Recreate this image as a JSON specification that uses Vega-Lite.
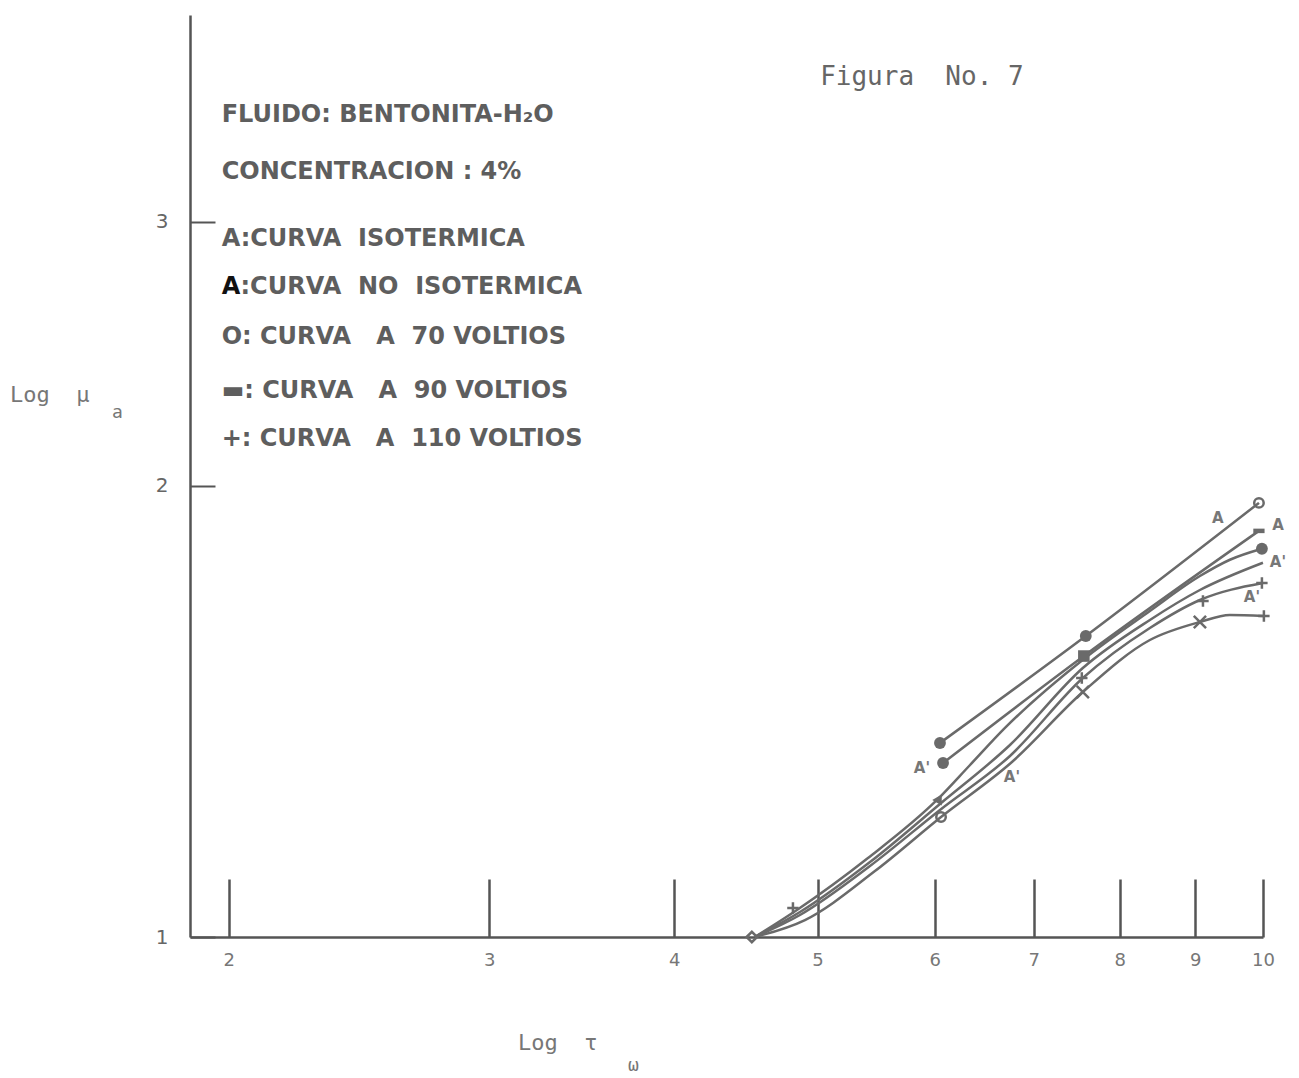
{
  "$schema": "https://vega.github.io/schema/vega-lite/v6.json",
  "width": 1073,
  "height": 922,
  "autosize": "none",
  "padding": {"left": 190, "top": 15, "right": 36, "bottom": 141},
  "background": "white",
  "config": {"view": {"stroke": null}, "axis": {"grid": false}},
  "datasets": {
    "curves": [
      {"series": "70V A", "tau": 6.049, "mu": 1.3471},
      {"series": "70V A", "tau": 7.590, "mu": 1.5876},
      {"series": "70V A", "tau": 9.937, "mu": 1.9477},
      {"series": "90V A", "tau": 6.078, "mu": 1.3063},
      {"series": "90V A", "tau": 7.567, "mu": 1.5395},
      {"series": "90V A", "tau": 9.937, "mu": 1.8657},
      {"series": "70V A'", "tau": 4.535, "mu": 1.0},
      {"series": "70V A'", "tau": 4.842, "mu": 1.0423},
      {"series": "70V A'", "tau": 5.408, "mu": 1.1289},
      {"series": "70V A'", "tau": 6.021, "mu": 1.2342},
      {"series": "70V A'", "tau": 6.339, "mu": 1.3023},
      {"series": "70V A'", "tau": 6.693, "mu": 1.3785},
      {"series": "70V A'", "tau": 7.567, "mu": 1.5324},
      {"series": "70V A'", "tau": 8.386, "mu": 1.6498},
      {"series": "70V A'", "tau": 9.065, "mu": 1.7407},
      {"series": "70V A'", "tau": 9.498, "mu": 1.7848},
      {"series": "70V A'", "tau": 9.983, "mu": 1.8152},
      {"series": "90V A'", "tau": 4.535, "mu": 1.0},
      {"series": "90V A'", "tau": 4.865, "mu": 1.0391},
      {"series": "90V A'", "tau": 5.425, "mu": 1.1220},
      {"series": "90V A'", "tau": 6.049, "mu": 1.2267},
      {"series": "90V A'", "tau": 6.745, "mu": 1.3429},
      {"series": "90V A'", "tau": 7.555, "mu": 1.5114},
      {"series": "90V A'", "tau": 8.386, "mu": 1.6272},
      {"series": "90V A'", "tau": 9.065, "mu": 1.7038},
      {"series": "90V A'", "tau": 9.999, "mu": 1.7766},
      {"series": "110V A", "tau": 4.535, "mu": 1.0},
      {"series": "110V A", "tau": 4.865, "mu": 1.0344},
      {"series": "110V A", "tau": 5.425, "mu": 1.1152},
      {"series": "110V A", "tau": 6.049, "mu": 1.2155},
      {"series": "110V A", "tau": 6.745, "mu": 1.3205},
      {"series": "110V A", "tau": 7.555, "mu": 1.4884},
      {"series": "110V A", "tau": 8.386, "mu": 1.6073},
      {"series": "110V A", "tau": 9.065, "mu": 1.6779},
      {"series": "110V A", "tau": 9.999, "mu": 1.7221},
      {"series": "110V A'", "tau": 4.535, "mu": 1.0},
      {"series": "110V A'", "tau": 4.903, "mu": 1.0264},
      {"series": "110V A'", "tau": 5.467, "mu": 1.1066},
      {"series": "110V A'", "tau": 6.059, "mu": 1.2024},
      {"series": "110V A'", "tau": 6.766, "mu": 1.3084},
      {"series": "110V A'", "tau": 7.555, "mu": 1.4567},
      {"series": "110V A'", "tau": 8.386, "mu": 1.5779},
      {"series": "110V A'", "tau": 9.065, "mu": 1.6222},
      {"series": "110V A'", "tau": 9.498, "mu": 1.6397},
      {"series": "110V A'", "tau": 10.014, "mu": 1.6372}
    ],
    "filledMarkers": [
      {"marker": "dot", "tau": 6.049, "mu": 1.3471},
      {"marker": "dot", "tau": 7.590, "mu": 1.5876},
      {"marker": "dot", "tau": 6.078, "mu": 1.3063},
      {"marker": "dot", "tau": 9.983, "mu": 1.8152},
      {"marker": "square", "tau": 7.567, "mu": 1.5395},
      {"marker": "bar", "tau": 9.937, "mu": 1.8657},
      {"marker": "tri", "tau": 6.021, "mu": 1.2342}
    ],
    "openMarkers": [
      {"symbol": "ring", "tau": 9.937, "mu": 1.9477},
      {"symbol": "ring", "tau": 6.059, "mu": 1.2024},
      {"symbol": "diamond", "tau": 4.514, "mu": 1.0},
      {"symbol": "plus", "tau": 4.812, "mu": 1.0455},
      {"symbol": "plus", "tau": 7.543, "mu": 1.4884},
      {"symbol": "plus", "tau": 9.108, "mu": 1.6753},
      {"symbol": "plus", "tau": 9.983, "mu": 1.7221},
      {"symbol": "plus", "tau": 10.014, "mu": 1.6372},
      {"symbol": "x", "tau": 7.555, "mu": 1.4567},
      {"symbol": "x", "tau": 9.065, "mu": 1.6222}
    ],
    "curveLabels": [
      {"label": "A", "tau": 9.322, "mu": 1.9033},
      {"label": "A", "tau": 10.235, "mu": 1.8829},
      {"label": "A'", "tau": 10.235, "mu": 1.7793},
      {"label": "A'", "tau": 9.829, "mu": 1.6856},
      {"label": "A'", "tau": 5.882, "mu": 1.2963},
      {"label": "A'", "tau": 6.766, "mu": 1.2785}
    ],
    "legendText": [
      {"label": "FLUIDO:\u00a0BENTONITA-H₂O", "tau": 1.978, "mu": 3.532},
      {"label": "CONCENTRACION\u00a0:\u00a04%", "tau": 1.978, "mu": 3.236},
      {"label": "A:CURVA\u00a0\u00a0ISOTERMICA", "tau": 1.978, "mu": 2.920},
      {"label": ":CURVA\u00a0\u00a0NO\u00a0\u00a0ISOTERMICA", "tau": 2.037, "mu": 2.713},
      {"label": "O:\u00a0CURVA\u00a0\u00a0\u00a0A\u00a0\u00a070\u00a0VOLTIOS", "tau": 1.978, "mu": 2.512},
      {"label": "▬:\u00a0CURVA\u00a0\u00a0\u00a0A\u00a0\u00a090\u00a0VOLTIOS", "tau": 1.978, "mu": 2.312},
      {"label": "+:\u00a0CURVA\u00a0\u00a0\u00a0A\u00a0\u00a0110\u00a0VOLTIOS", "tau": 1.978, "mu": 2.148}
    ],
    "boldA": [
      {"label": "A", "tau": 1.978, "mu": 2.713}
    ],
    "figTitle": [
      {"label": "Figura\u00a0\u00a0No.\u00a07", "tau": 5.02, "mu": 3.745}
    ],
    "axisNames": [
      {"label": "Log\u00a0\u00a0μ", "tau": 1.4228, "mu": 2.298},
      {"label": "Log\u00a0\u00a0τ", "tau": 3.137, "mu": 0.85}
    ],
    "axisSubs": [
      {"label": "a", "tau": 1.6676, "mu": 2.236},
      {"label": "ω", "tau": 3.723, "mu": 0.8203}
    ]
  },
  "encoding": {
    "x": {
      "field": "tau", "type": "quantitative",
      "scale": {"type": "log", "domain": [1.883, 10], "nice": false},
      "axis": {
        "title": null, "values": [2, 3, 4, 5, 6, 7, 8, 9, 10], "format": "d",
        "domainColor": "#555", "domainWidth": 2.5, "tickColor": "#555", "tickWidth": 2.5,
        "tickSize": -58, "labelPadding": 72, "labelFont": "DejaVu Sans", "labelFontSize": 18,
        "labelColor": "#777", "labelFlush": false, "labelOverlap": false
      }
    },
    "y": {
      "field": "mu", "type": "quantitative",
      "scale": {"type": "log", "domain": [1, 4.12], "nice": false},
      "axis": {
        "title": null, "values": [1, 2, 3], "format": "d",
        "domainColor": "#555", "domainWidth": 2.5, "tickColor": "#555", "tickWidth": 2,
        "tickSize": -25, "labelPadding": 47, "labelFont": "DejaVu Sans", "labelFontSize": 20,
        "labelColor": "#666", "labelFlush": false, "labelOverlap": false
      }
    }
  },
  "resolve": {"scale": {"shape": "independent", "size": "independent"}},
  "layer": [
    {
      "data": {"name": "curves"},
      "mark": {"type": "line", "interpolate": "monotone", "stroke": "#6a6a6a", "strokeWidth": 2.5},
      "encoding": {"detail": {"field": "series", "type": "nominal"}}
    },
    {
      "data": {"name": "filledMarkers"},
      "mark": {"type": "point", "filled": true, "opacity": 1, "fill": "#6a6a6a"},
      "encoding": {
        "shape": {"field": "marker", "type": "nominal", "legend": null,
          "scale": {"domain": ["dot", "square", "bar", "tri"],
                    "range": ["circle", "square", "M-1,-0.4H1V0.4H-1Z", "triangle-left"]}},
        "size": {"field": "marker", "type": "nominal", "legend": null,
          "scale": {"domain": ["dot", "square", "bar", "tri"], "range": [140, 120, 260, 110]}}
      }
    },
    {
      "data": {"name": "openMarkers"},
      "mark": {"type": "point", "filled": false, "opacity": 1, "stroke": "#6a6a6a", "strokeWidth": 2.5},
      "encoding": {
        "shape": {"field": "symbol", "type": "nominal", "legend": null,
          "scale": {"domain": ["ring", "diamond", "plus", "x"],
                    "range": ["circle", "diamond", "M-1,0H1M0,-1V1", "M-1,-1L1,1M-1,1L1,-1"]}},
        "size": {"field": "symbol", "type": "nominal", "legend": null,
          "scale": {"domain": ["ring", "diamond", "plus", "x"], "range": [90, 150, 220, 110]}}
      }
    },
    {
      "data": {"name": "curveLabels"},
      "mark": {"type": "text", "align": "center", "baseline": "middle", "font": "DejaVu Sans", "fontSize": 15, "fontWeight": "bold", "fill": "#777"},
      "encoding": {"text": {"field": "label"}}
    },
    {
      "data": {"name": "legendText"},
      "mark": {"type": "text", "align": "left", "baseline": "middle", "font": "DejaVu Sans", "fontSize": 24, "fontWeight": "bold", "fill": "#5e5e5e"},
      "encoding": {"text": {"field": "label"}}
    },
    {
      "data": {"name": "boldA"},
      "mark": {"type": "text", "align": "left", "baseline": "middle", "font": "DejaVu Sans", "fontSize": 24, "fontWeight": "bold", "fill": "#111"},
      "encoding": {"text": {"field": "label"}}
    },
    {
      "data": {"name": "figTitle"},
      "mark": {"type": "text", "align": "left", "baseline": "middle", "font": "DejaVu Sans Mono", "fontSize": 26, "fill": "#666"},
      "encoding": {"text": {"field": "label"}}
    },
    {
      "data": {"name": "axisNames"},
      "mark": {"type": "text", "align": "left", "baseline": "middle", "font": "DejaVu Sans Mono", "fontSize": 22, "fill": "#777"},
      "encoding": {"text": {"field": "label"}}
    },
    {
      "data": {"name": "axisSubs"},
      "mark": {"type": "text", "align": "left", "baseline": "middle", "font": "DejaVu Sans Mono", "fontSize": 18, "fill": "#777"},
      "encoding": {"text": {"field": "label"}}
    }
  ]
}
